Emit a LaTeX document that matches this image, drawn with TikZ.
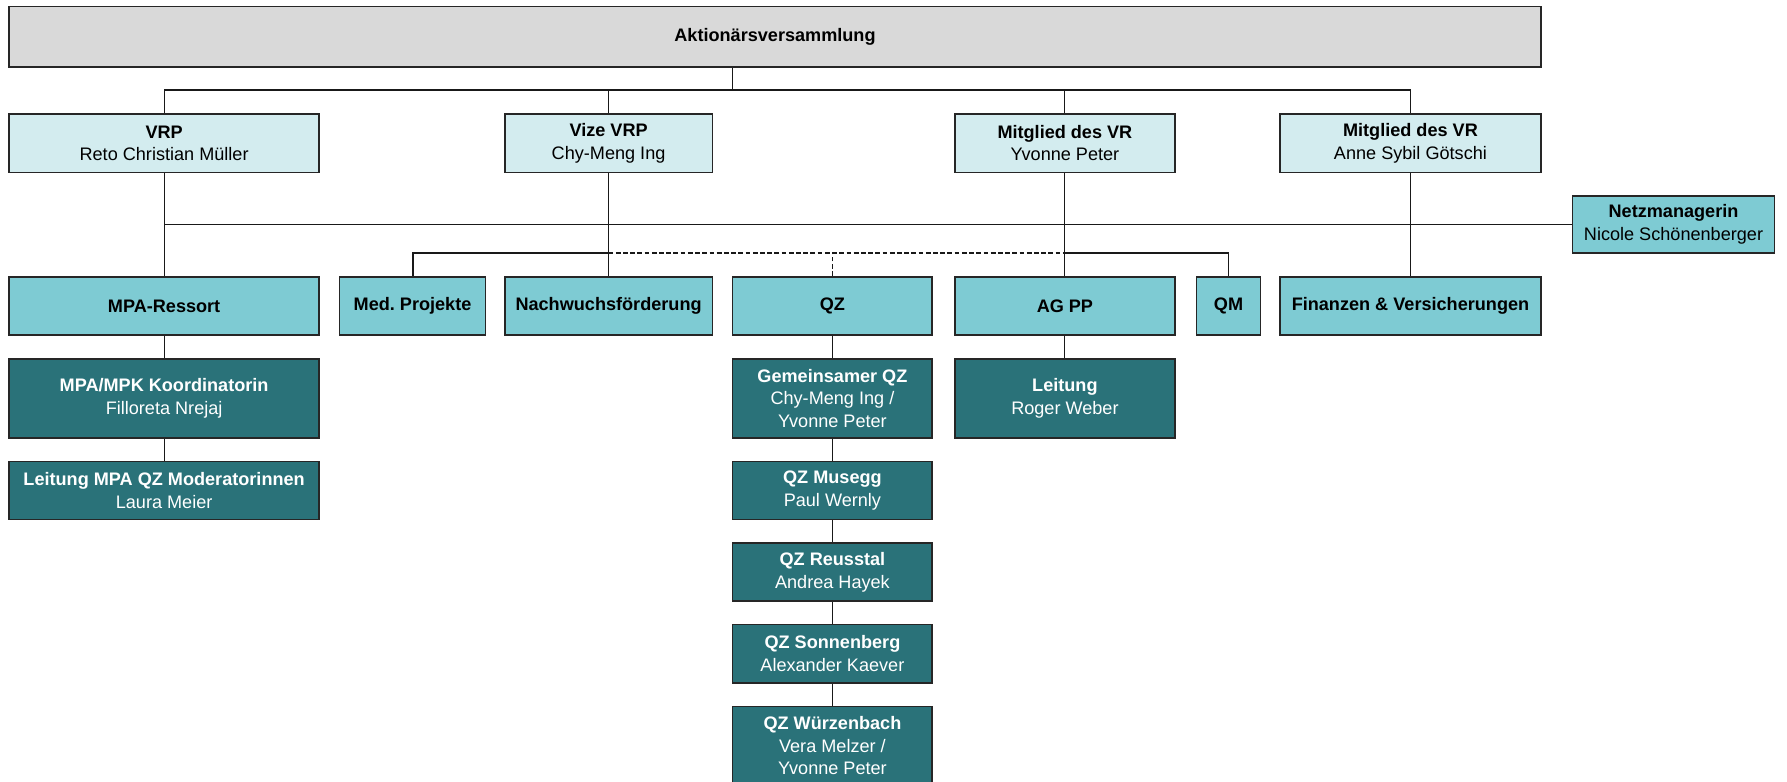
\documentclass[tikz,border=0pt]{standalone}
\usepackage{fontspec}
\setmainfont{Liberation Sans}
\usepackage{tikz}

\definecolor{boardblue}{HTML}{D3ECEF}
\definecolor{unitblue}{HTML}{7ECBD3}
\definecolor{teamteal}{HTML}{2A7279}
\definecolor{topgray}{HTML}{D9D9D9}

\tikzset{
	orgbox/.style={draw=black!85,line width=1pt,align=center,inner sep=0pt,
		minimum height=1.28cm,font=\fontsize{11.3}{14}\selectfont},
	topbox/.style={orgbox,fill=topgray,minimum height=1.33cm},
	board/.style={orgbox,fill=boardblue},
	unit/.style={orgbox,fill=unitblue},
	team/.style={orgbox,fill=teamteal,text=white},
	tall/.style={minimum height=1.73cm},
	link/.style={line width=0.7pt,black!90}
}

\begin{document}
\begin{tikzpicture}
		\useasboundingbox (0,0) rectangle (39.2,-17.15);
		% Generalversammlung
		\node[topbox,minimum width=33.6cm] (aktionaer) at (17.0,-0.81) {\textbf{Aktionärsversammlung}};
		% Verwaltungsrat
		\node[board,minimum width=6.8cm] (vrp) at (3.6,-3.14) {\textbf{VRP}\\Reto Christian Müller};
		\node[board,minimum width=4.55cm] (vize) at (13.35,-3.14) {\textbf{Vize VRP}\\Chy-Meng Ing};
		\node[board,minimum width=4.83cm] (mitglA) at (23.36,-3.14) {\textbf{Mitglied des VR}\\Yvonne Peter};
		\node[board,minimum width=5.73cm] (mitglB) at (30.94,-3.14) {\textbf{Mitglied des VR}\\Anne Sybil Götschi};
		\node[unit,minimum width=4.43cm,minimum height=1.25cm] (netz) at (36.71,-4.925) {\textbf{Netzmanagerin}\\Nicole Schönenberger};
		% Ressorts
		\node[unit,minimum width=6.8cm] (mpa) at (3.6,-6.71) {\textbf{MPA-Ressort}};
		\node[unit,minimum width=3.2cm] (medproj) at (9.05,-6.71) {\textbf{Med.\ Projekte}};
		\node[unit,minimum width=4.55cm] (nachw) at (13.35,-6.71) {\textbf{Nachwuchsförderung}};
		\node[unit,minimum width=4.38cm] (qz) at (18.26,-6.71) {\textbf{QZ}};
		\node[unit,minimum width=4.83cm] (agpp) at (23.36,-6.71) {\textbf{AG PP}};
		\node[unit,minimum width=1.4cm] (qm) at (26.95,-6.71) {\textbf{QM}};
		\node[unit,minimum width=5.73cm] (fin) at (30.94,-6.71) {\textbf{Finanzen \& Versicherungen}};
		% Teams
		\node[team,tall,minimum width=6.8cm] (koord) at (3.6,-8.74) {\textbf{MPA/MPK Koordinatorin}\\Filloreta Nrejaj};
		\node[team,minimum width=6.8cm] (leitmpa) at (3.6,-10.76) {\textbf{Leitung MPA QZ Moderatorinnen}\\Laura Meier};
		\node[team,tall,minimum width=4.38cm] (gemqz) at (18.26,-8.74) {\textbf{Gemeinsamer QZ}\\Chy-Meng Ing /\\Yvonne Peter};
		\node[team,tall,minimum width=4.83cm] (leitag) at (23.36,-8.74) {\textbf{Leitung}\\Roger Weber};
		\node[team,minimum width=4.38cm] (musegg) at (18.26,-10.76) {\textbf{QZ Musegg}\\Paul Wernly};
		\node[team,minimum width=4.38cm] (reuss) at (18.26,-12.55) {\textbf{QZ Reusstal}\\Andrea Hayek};
		\node[team,minimum width=4.38cm] (sonnen) at (18.26,-14.34) {\textbf{QZ Sonnenberg}\\Alexander Kaever};
		\node[team,tall,minimum width=4.38cm] (wuerz) at (18.26,-16.36) {\textbf{QZ Würzenbach}\\Vera Melzer /\\Yvonne Peter};

		% Verbindungen
		\coordinate (bus1) at (16.075,-1.975);
		\coordinate (bus3) at (0,-5.55);
		\draw[link] (aktionaer.south -| bus1) -- (bus1);
		\draw[link] (vrp.north) -- (vrp.north |- bus1) -- (mitglB.north |- bus1) -- (mitglB.north);
		\draw[link] (vize.north) -- (vize.north |- bus1);
		\draw[link] (mitglA.north) -- (mitglA.north |- bus1);
		\draw[link] (vrp.south |- netz.west) -- (netz.west);
		\draw[link] (vrp.south) -- (mpa.north);
		\draw[link] (vize.south) -- (nachw.north);
		\draw[link] (mitglA.south) -- (agpp.north);
		\draw[link] (mitglB.south) -- (fin.north);
		\draw[link,line width=1.3pt] (medproj.north) |- (vize.south |- bus3);
		\draw[link,dash pattern=on 3pt off 1.5pt] (vize.south |- bus3) -- (mitglA.south |- bus3);
		\draw[link,dash pattern=on 3pt off 1.5pt] (qz.north) -- (qz.north |- bus3);
		\draw[link] (mitglA.south |- bus3) -| (qm.north);
		\draw[link] (mpa) -- (koord) -- (leitmpa);
		\draw[link] (qz) -- (gemqz) -- (musegg) -- (reuss) -- (sonnen) -- (wuerz);
		\draw[link] (agpp) -- (leitag);
	\end{tikzpicture}
\end{document}
